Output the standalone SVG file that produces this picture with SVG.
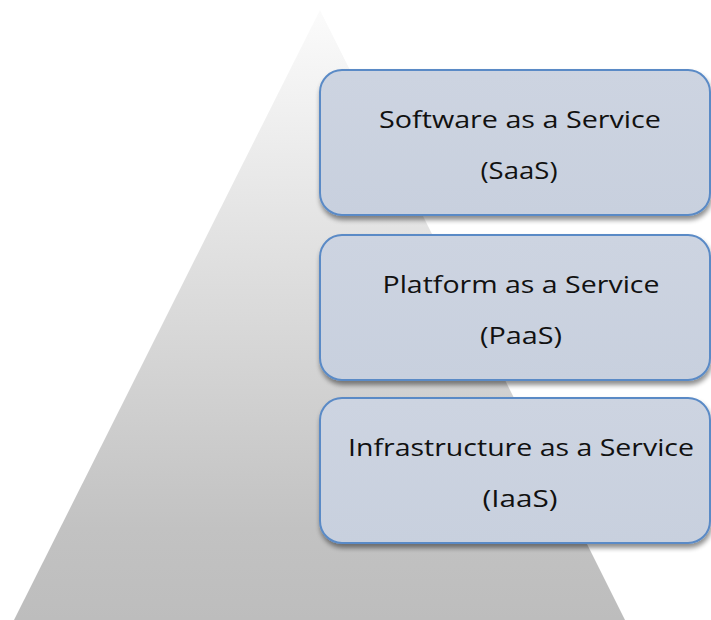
<svg xmlns="http://www.w3.org/2000/svg" width="711" height="620" viewBox="0 0 711 620">
  <defs>
    <linearGradient id="pyr" x1="0" y1="0" x2="0" y2="1">
      <stop offset="0" stop-color="#fbfbfb"/>
      <stop offset="0.85" stop-color="#c2c2c2"/>
      <stop offset="1" stop-color="#bdbdbd"/>
    </linearGradient>
    <linearGradient id="box" x1="0" y1="0" x2="0" y2="1">
      <stop offset="0" stop-color="#cdd4e1"/>
      <stop offset="1" stop-color="#c8d0de"/>
    </linearGradient>
    <filter id="sh" x="-10%" y="-10%" width="120%" height="130%">
      <feGaussianBlur in="SourceAlpha" stdDeviation="2.5"/>
      <feOffset dx="1" dy="4" result="b"/>
      <feComponentTransfer><feFuncA type="linear" slope="0.45"/></feComponentTransfer>
      <feMerge><feMergeNode/><feMergeNode in="SourceGraphic"/></feMerge>
    </filter>
  </defs>
  <style>
    .box { fill: url(#box); stroke: #5a8ac6; stroke-width: 2; filter: url(#sh); }
    .t { font-family: "Open Sans", "Liberation Sans", sans-serif; font-size: 24px; fill: #111; text-anchor: middle; }
  </style>
  <rect width="711" height="620" fill="#ffffff"/>
  <g id="pyramid">
    <polygon points="320,10 625,620 14,620" fill="url(#pyr)"/>
    <line x1="322" y1="12" x2="628" y2="620" stroke="#ffffff" stroke-width="1.5"/>
  </g>
  <g id="connectors"></g>
  <g id="saas">
    <rect class="box" x="320" y="70" width="390" height="145" rx="22" ry="22"/>
    <text class="t" x="520" y="128" textLength="282" lengthAdjust="spacingAndGlyphs">Software as a Service</text>
    <text class="t" x="519" y="179" textLength="77" lengthAdjust="spacingAndGlyphs">(SaaS)</text>
  </g>
  <g id="paas">
    <rect class="box" x="320" y="235" width="390" height="145" rx="22" ry="22"/>
    <text class="t" x="521" y="293" textLength="277" lengthAdjust="spacingAndGlyphs">Platform as a Service</text>
    <text class="t" x="521" y="344" textLength="82" lengthAdjust="spacingAndGlyphs">(PaaS)</text>
  </g>
  <g id="iaas">
    <rect class="box" x="320" y="398" width="390" height="145" rx="22" ry="22"/>
    <text class="t" x="521" y="456" textLength="346" lengthAdjust="spacingAndGlyphs">Infrastructure as a Service</text>
    <text class="t" x="520" y="507" textLength="75" lengthAdjust="spacingAndGlyphs">(IaaS)</text>
  </g>
</svg>
